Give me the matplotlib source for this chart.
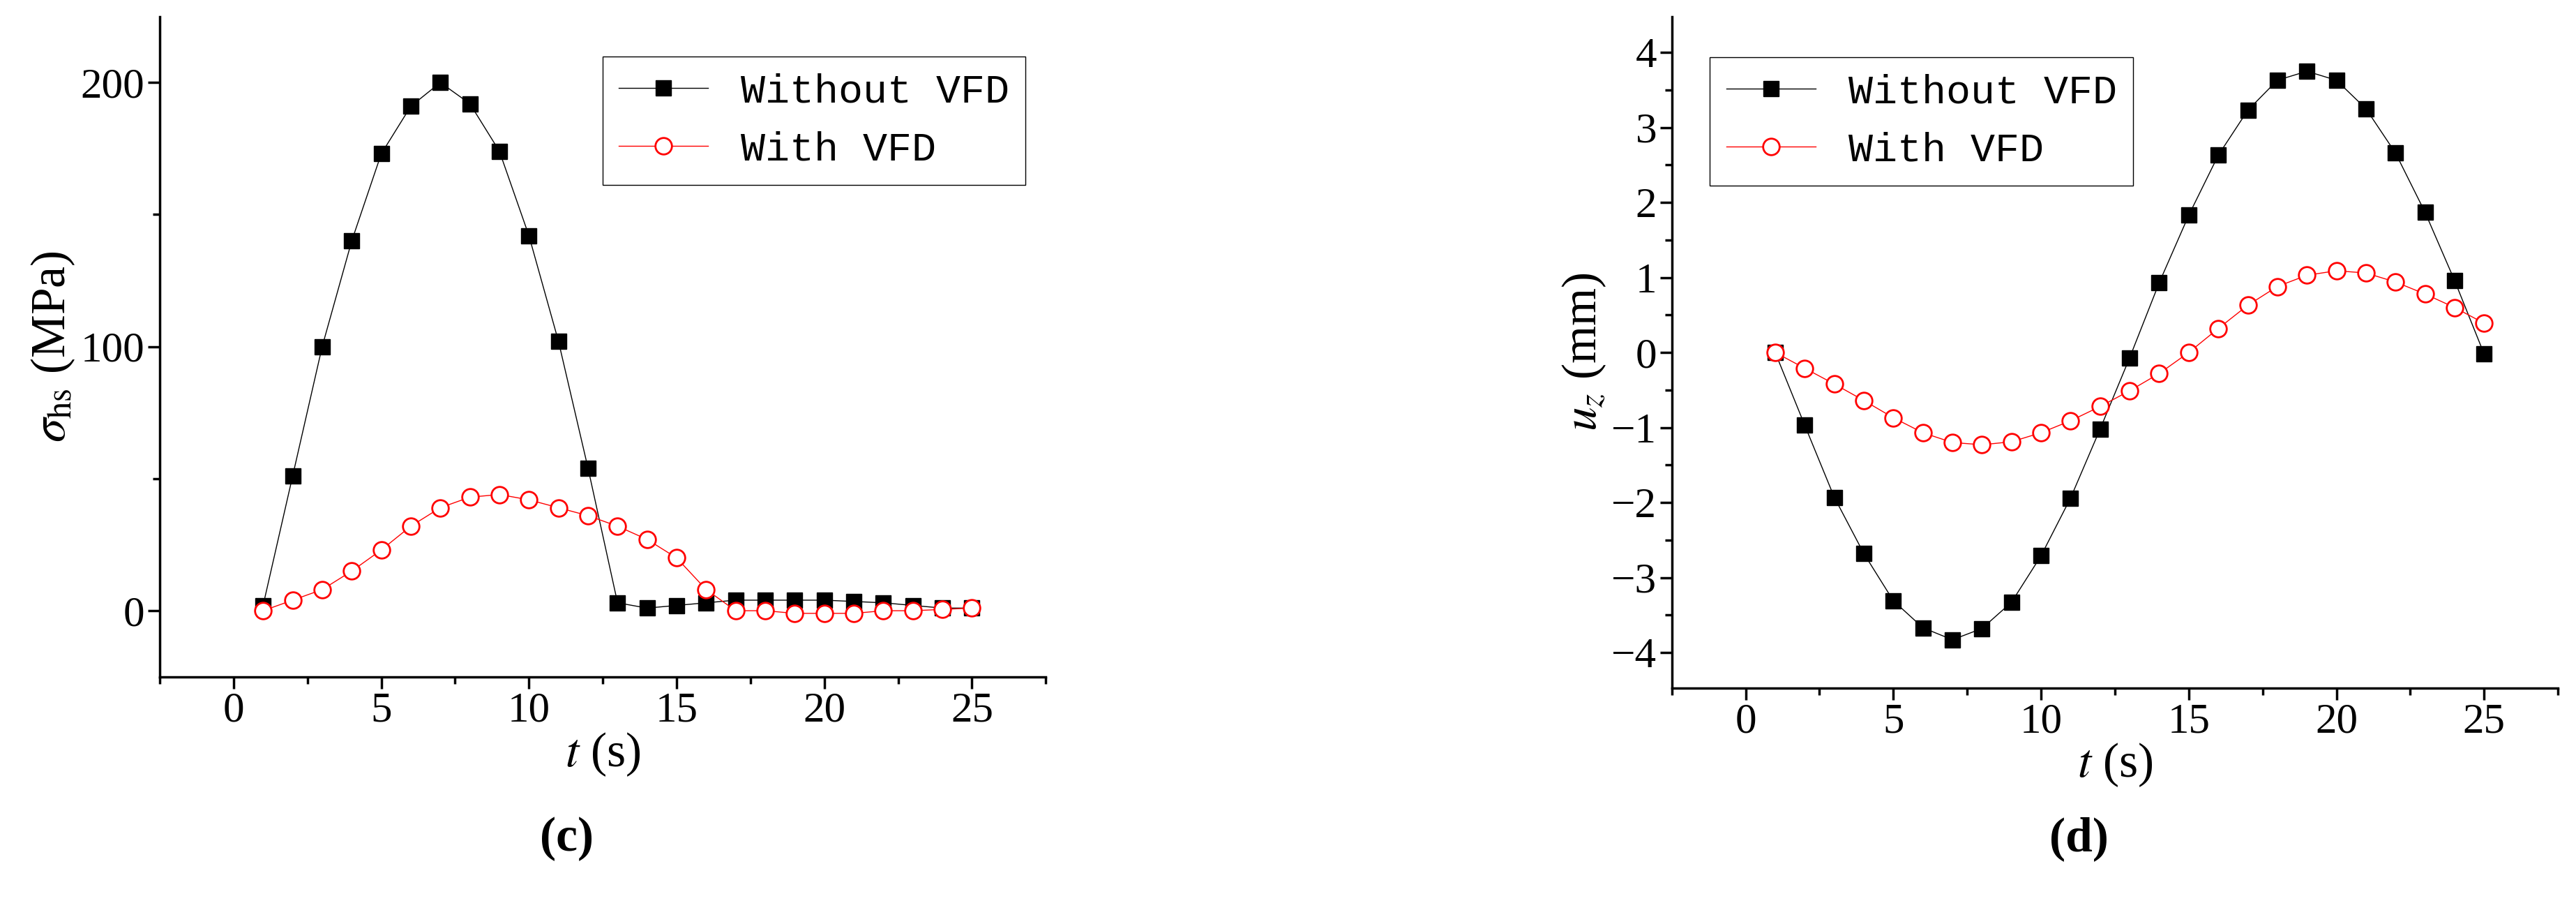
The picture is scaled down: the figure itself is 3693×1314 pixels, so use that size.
import numpy as np
import matplotlib.pyplot as plt
from matplotlib.ticker import MultipleLocator

t = np.arange(1, 26)

# (c) hot-spot stress, MPa
sig_without = [2, 51, 100, 140, 173, 191, 200, 192, 174, 142, 102, 54, 3, 1, 2, 3,
               4, 4, 4, 4, 3.5, 3, 2, 1, 1]
sig_with = [0, 4, 8, 15, 23, 32, 39, 43, 44, 42, 39, 36, 32, 27, 20, 8,
            0, 0, -1, -1, -1, 0, 0, 0.5, 1]

# (d) vertical displacement, mm
uz_without = [0, -0.97, -1.93, -2.68, -3.31, -3.67, -3.83, -3.68, -3.33, -2.71, -1.94,
              -1.02, -0.07, 0.93, 1.83, 2.63, 3.23, 3.63, 3.75, 3.63, 3.25, 2.66,
              1.87, 0.96, -0.02]
uz_with = [0, -0.21, -0.42, -0.64, -0.87, -1.07, -1.2, -1.23, -1.19, -1.07, -0.91,
           -0.72, -0.51, -0.28, 0, 0.32, 0.63, 0.88, 1.03, 1.09, 1.06, 0.94, 0.78,
           0.6, 0.39]

plt.rcParams['font.family'] = ['Liberation Serif', 'DejaVu Serif']
plt.rcParams['mathtext.fontset'] = 'stix'

fig = plt.figure(figsize=(36.93, 13.14), dpi=100)
ax1 = fig.add_axes([0.062, 0.262, 0.344, 0.72])
ax2 = fig.add_axes([0.649, 0.25, 0.344, 0.732])


def style(ax):
    for s in ['top', 'right']:
        ax.spines[s].set_visible(False)
    for s in ['left', 'bottom']:
        ax.spines[s].set_linewidth(2.5)
    ax.tick_params(which='major', length=12, width=2.5, labelsize=44)
    ax.tick_params(which='minor', length=7, width=2.5)
    ax.set_xlim(-2.5, 27.5)
    ax.xaxis.set_major_locator(MultipleLocator(5))
    ax.xaxis.set_minor_locator(MultipleLocator(2.5))
    ax.set_xlabel(r'$t$ (s)', fontsize=50, labelpad=0)


def plot_pair(ax, a, b):
    ax.plot(t, a, color='black', lw=1, marker='s', ms=16, label='Without VFD')
    ax.plot(t, b, color='red', lw=1, marker='o', ms=17, mfc='white', mec='red',
            mew=2, label='With VFD')


plot_pair(ax1, sig_without, sig_with)
style(ax1)
ax1.set_ylim(-25, 225)
ax1.yaxis.set_major_locator(MultipleLocator(100))
ax1.yaxis.set_minor_locator(MultipleLocator(50))
ax1.set_ylabel(r'$\sigma_{\rm hs}$ (MPa)', fontsize=50)
ax1.legend(loc='upper right', bbox_to_anchor=(1.0, 0.97), prop={'family': 'Liberation Mono', 'size': 42},
           fancybox=False, edgecolor='black', framealpha=1, handlelength=2.2)

plot_pair(ax2, uz_without, uz_with)
style(ax2)
ax2.set_ylim(-4.47, 4.48)
ax2.yaxis.set_major_locator(MultipleLocator(1))
ax2.yaxis.set_minor_locator(MultipleLocator(0.5))
ax2.set_ylabel(r'$u_z$ (mm)', fontsize=50)
ax2.legend(loc='upper left', bbox_to_anchor=(0.02, 0.97), prop={'family': 'Liberation Mono', 'size': 42},
           fancybox=False, edgecolor='black', framealpha=1, handlelength=2.2)

fig.text(0.22, 0.085, '(c)', fontsize=50, fontweight='bold', ha='center', va='center')
fig.text(0.807, 0.085, '(d)', fontsize=50, fontweight='bold', ha='center', va='center')

fig.savefig('out.png', dpi=100)
